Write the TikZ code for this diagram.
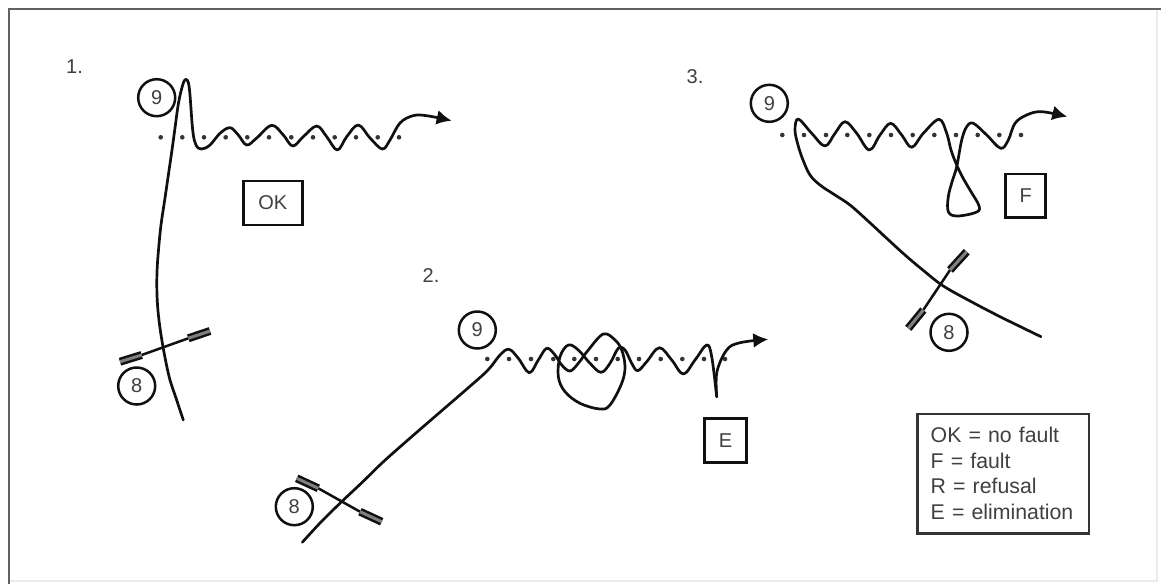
\documentclass[tikz,border=0pt]{standalone}
\usepackage{fontspec}
\setmainfont{Liberation Sans}
\usetikzlibrary{arrows.meta}
\definecolor{ink}{HTML}{101010}
\definecolor{txt}{HTML}{404040}
\tikzset{
  x=1pt,y=-1pt,
  curve/.style={draw=ink,line width=2.7pt,line join=round,line cap=round},
  arrowed/.style={curve,-{Latex[length=15pt,width=15pt]}},
  mark9/.style={circle,draw=ink,line width=2.5pt,minimum size=37pt,inner sep=0pt,text=txt,font=\fontsize{20}{24}\selectfont},
  tag/.style={rectangle,draw=ink,line width=2.5pt,inner sep=0pt,text=txt,font=\fontsize{20}{24}\selectfont},
  numlabel/.style={inner sep=0pt,text=txt,font=\fontsize{20}{24}\selectfont},
  rod/.style={draw=ink,line width=2.5pt},
  barout/.style={draw=ink,line width=8pt},
  barin/.style={draw=black!50,line width=3pt},
  gatedot/.style={circle,fill=ink!85,inner sep=0pt,minimum size=4.6pt},
  legend/.style={rectangle,draw=ink!85,line width=2.8pt,inner sep=0pt,text=txt,align=left,font=\fontsize{21.3}{25.5}\selectfont},
}
\newcommand{\gatebar}[4]{%
  \coordinate (ga) at (#1); \coordinate (gb) at (#2);
  \coordinate (gc) at (#3); \coordinate (gd) at (#4);
  \draw[rod] (gb) -- (gc);
  \draw[barout] (ga) -- (gb); \draw[barout] (gc) -- (gd);
  \draw[barin] (ga) -- (gb); \draw[barin] (gc) -- (gd);
}
\newcommand{\dotrow}[2]{\foreach \px in {#2} \node[gatedot] at (\px,#1) {};}
\begin{document}
\begin{tikzpicture}
\useasboundingbox (0,0) rectangle (1161,584);
\fill[white] (0,0) rectangle (1161,584);
% frame
\draw[black!8,line width=1.5pt] (1157,9) -- (1157,581) -- (9,581);
\draw[black!62,line width=2.6pt] (9,584) -- (9,9) -- (1161,9);

% ---------- 1
\node[numlabel] (n1) at (74.5,66.5) {1.};
\node[mark9] (c91) at (156.7,97.7) {9};
\dotrow{137.3}{160.7,182.3,204,225.7,247.3,269,291.3,313,334.7,356,377.7,399}
\draw[arrowed] plot[smooth,tension=0.6] coordinates {
 (183.3,420) (176,398) (170,380) (165.5,360) (161.5,338) (158.5,316) (157,295) (157,272) (158.5,250) (161,225) (165,198) (168.5,174) (172,150) (175,128) (178.5,103) (182.7,85) (186,79.3) (189.3,88) (192.7,130) (196,145) (201.7,149) (210,145) (220,133.3) (230,127.7) (238.3,135) (246.7,145) (256.7,138) (271.7,125.3) (283.3,135) (292.7,146) (303.3,136.7) (316.7,126) (326.7,136.7) (337.3,150) (346.7,136.7) (358.3,125) (370,138) (382.3,149) (390,140) (400,123) (413,115.7) (426.7,115.7) (451.7,120.7)};
\node[tag,minimum width=59pt,minimum height=44pt] (ok) at (272.8,203) {OK};
\gatebar{120,361.7}{141.7,355}{188.3,338.3}{210,331}
\node[mark9] (c81) at (136.7,386) {8};

% ---------- 2
\node[numlabel] (n2) at (431,276) {2.};
\node[mark9] (c92) at (477.3,330) {9};
\dotrow{359}{487.3,509,531,553.3,574.3,596,617.7,639,660.7,682.3,704,725}
\draw[curve] plot[smooth,tension=0.6] coordinates {
 (302.3,542.3) (321,522) (341,502.3) (362,482.5) (382,463) (403.3,444) (424,426) (446,407) (468,388) (488,370) (500,355) (509,349.3) (518.3,358.3) (529.3,372.7) (538.3,360) (546.7,348.3) (555,355) (561.7,365) (570,371) (578.3,363.3) (588.3,350) (603.3,334) (615,340) (621.7,350) (625,366.7) (621.7,383.3) (610,405) (600,409) (580,403.3) (565,391.7) (558.3,376.7) (560,356.7) (568.3,345) (578.3,350) (590,363.3) (601,372.3) (610,363.3) (618.3,348.3) (625,350) (631.7,363.3) (637.7,370.7) (646.7,361.7) (659.3,347.7) (671.7,360) (683.3,374) (695,360) (706.7,345) (711.7,356.7) (716.7,396.7)};
\draw[arrowed] plot[smooth,tension=0.6] coordinates {
 (716.7,396.7) (716.9,372) (726.7,350) (740,342.7) (768.3,339.3)};
\node[tag,minimum width=42.4pt,minimum height=43.6pt] (e) at (725.5,440.5) {E};
\gatebar{296.7,478.3}{318.3,488.3}{360,511.7}{381.7,521.7}
\node[mark9] (c82) at (294.3,506.7) {8};

% ---------- 3
\node[numlabel] (n3) at (695,77) {3.};
\node[mark9] (c93) at (769.3,103.3) {9};
\dotrow{135}{782.3,804,826,847.3,869.3,891,912.7,934.3,956,977.7,999.3,1021}
\draw[arrowed] plot[smooth,tension=0.6] coordinates {
 (1041,336.7) (1019,326) (996.7,315) (970,301) (943.3,286) (924,271) (905,255) (886.7,238.3) (868,221) (850,205) (835,195) (820,185) (810,175) (803,160) (798,145) (795,130) (798.3,119) (811.7,133.3) (825,146) (835,133.3) (845,121.7) (856.7,133.3) (869.3,150) (880,135) (890.7,123.3) (901.7,135) (911.7,147.3) (923.3,133.3) (939,119.3) (946.7,133.3) (951,150) (956.7,165) (963,178) (970,190) (979.3,206.7) (975,212.7) (956.7,216) (948.3,211.7) (948.3,196.7) (952,182) (956.7,166.7) (961.7,140) (966.7,126.7) (973.3,123.3) (986.7,135) (1000.7,148.3) (1008.3,140) (1015,123.3) (1026.7,115) (1041.7,111.7) (1067.3,116.7)};
\node[tag,minimum width=40pt,minimum height=43.3pt] (f) at (1025.7,195.6) {F};
\gatebar{908.3,328.3}{923.3,310}{950,270}{966.7,251.7}
\node[mark9] (c83) at (949,332.3) {8};

% ---------- legend
\node[legend,minimum width=171.7pt,minimum height=119.3pt,text width=145pt] (key) at (1003.2,473.6)
 {OK = no fault\\F = fault\\R = refusal\\E = elimination};
\end{tikzpicture}
\end{document}
